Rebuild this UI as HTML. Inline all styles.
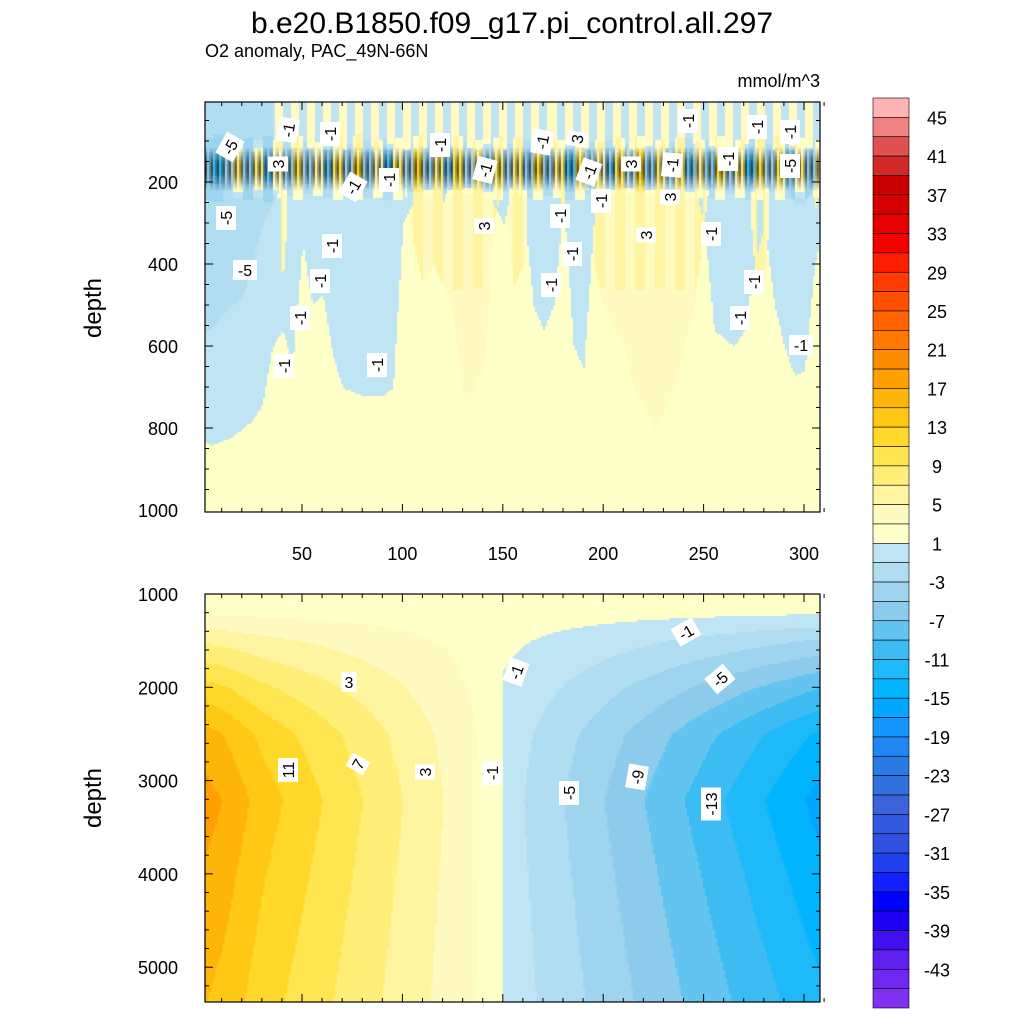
<!DOCTYPE html>
<html><head><meta charset="utf-8">
<style>
html,body{margin:0;padding:0;background:#fff;width:1024px;height:1024px;overflow:hidden;font-family:"Liberation Sans",sans-serif}
#wrap{position:relative;width:1024px;height:1024px}
canvas{position:absolute}
svg{position:absolute;left:0;top:0}
</style></head><body>
<div id="wrap">
<canvas id="topc" width="615" height="410" style="left:205px;top:102px"></canvas>
<canvas id="botc" width="615" height="408" style="left:205px;top:594px"></canvas>
<svg id="ov" width="1024" height="1024"></svg>
</div>
<script>
// ---- data ----
const colors=["#ffb4b4","#f08282","#e05050","#d22828","#c80000","#d70000","#e60000","#f50000","#ff1e00","#ff3c00","#ff5000","#ff6400","#ff7800","#ff8c00","#ffa000","#ffb40a","#ffc814","#ffd82a","#ffe650","#ffee78","#fff4a0","#fffac0","#ffffc8","#bfe4f4","#b0ddf2","#9fd4ef","#8ccbec","#64c4f0","#3cbcf2","#1eb9f8","#00b4ff","#00a6ff","#1496ff","#1e88f0","#2a7ae6","#3070dc","#3a64d8","#3458e0","#3050e0","#2040f0","#1020ff","#0000ff","#2000f0","#4010f0","#6020f0","#7028f0","#8030f0"];
const cbLabels=[45,41,37,33,29,25,21,17,13,9,5,1,-3,-7,-11,-15,-19,-23,-27,-31,-35,-39,-43];
const topX=[0,5,10,15,20,25,30,35,40,45,50,55,60,65,70,75,80,85,90,95,100,105,110,115,120,125,130,135,140,145,150,155,160,165,170,175,180,185,190,195,200,205,210,215,220,225,230,235,240,245,250,255,260,265,270,275,280,285,290,295,300,305,310];
const blueDepth=[830,840,830,820,800,780,740,600,560,640,350,500,470,620,700,710,720,720,720,700,300,250,200,150,250,150,100,100,100,250,300,200,250,500,560,500,250,600,650,300,200,150,100,100,100,100,150,100,150,200,300,560,580,600,560,400,300,500,600,670,660,400,300];
const yellowDepth=[100,100,100,100,100,100,100,100,450,100,100,100,100,100,100,100,100,100,100,100,200,350,450,400,450,500,720,700,650,300,200,450,400,100,100,100,300,100,100,400,500,550,600,700,750,800,760,700,600,500,300,100,100,100,100,400,450,100,100,100,100,250,350];
const deepBlueDepth=[560,560,520,500,480,400,300,250,200,200,200,180,180,200,220,200,200,200,200,180,180,180,180,180,180,180,180,180,180,180,180,180,180,180,200,180,180,200,200,180,180,180,180,180,180,180,180,180,180,180,180,200,220,200,180,180,180,180,200,250,250,200,180];
const bandVals=[-9,-12,-6,7,-9,6,-11,5,-8,9,-7,4,-10,8,-6,10,-9,5,-12,7,-6,11,-8,6,-10,9,-7,5,-11,8,-6,7,-9,10,-8,6,-12,9,-7,5,-10,8,-6,11,-9,6,-8,7,-11,5,-9,10,-7,6,-12,8,-6,9,-10,7,-8,5,10];
const botX=[0,10,20,30,40,60,80,100,110,120,130,140,149,150,160,180,200,220,240,260,280,300,310];
const botProfile=[16,15,13.5,12,11,9,7,5,4,3,1.8,0.8,0.2,-2,-3,-5,-7,-9,-11,-13,-15,-17,-18];
const botDepth=[1000,1200,1500,2000,2500,3200,4000,5000,5400];
const botFactor=[0,0.05,0.3,0.62,0.87,1,0.93,0.85,0.82];
// ---- helpers ----
function interp(xs,ys,x){if(x<=xs[0])return ys[0];for(let i=1;i<xs.length;i++){if(x<=xs[i]){const t=(x-xs[i-1])/(xs[i]-xs[i-1]);return ys[i-1]+t*(ys[i]-ys[i-1]);}}return ys[ys.length-1];}
function colIdx(v){let i=Math.floor((45-v)/2);return Math.max(0,Math.min(46,i));}
const tx=v=>201.6+v*2.008, ty=d=>100+d*0.41;
const by=d=>594+(d-1000)*0.0933;
// top field
(function(){const c=document.getElementById('topc').getContext('2d');
for(let px=0;px<615;px+=2){const x=(px+205-201.6)/2.008;
 const bd=interp(topX,blueDepth,x), dd=interp(topX,deepBlueDepth,x), yd=interp(topX,yellowDepth,x);
 const bi=Math.min(bandVals.length-1,Math.floor(x/5)); const bv=bandVals[bi];
 for(let py=0;py<410;py+=2){const d=(py+102-100)/0.41;
  let v=0; if(d<yd) v=3; if(d<bd && !(d<yd)) v=-2; if(d<bd&&d<yd) v=(Math.floor(x/3)%2)?3:-2;
  if(d<dd && bd>dd+100) v=-4.5;
  if(d<120 && x>35) v=(Math.floor(x/4)%2)?2.5:-2;
  const w=Math.exp(-Math.pow((d-165)/50,2));
  v=v*(1-w)+bv*w;
  c.fillStyle=colors[colIdx(v)];c.fillRect(px,py,2,2);
  const k=(px/2)%3;
  if(w>0.35&&k!=1){c.fillStyle='rgba(0,0,0,'+(0.9*(w-0.3)*(k==0?1:0.6))+')';c.fillRect(px,py,2,2);}
 }}})();
// bottom field
(function(){const c=document.getElementById('botc').getContext('2d');
for(let px=0;px<615;px+=2){const x=(px+205-201.6)/2.008;const p=interp(botX,botProfile,x);
 for(let py=0;py<408;py+=2){const d=1000+(py)/0.0933;
  const v=p*interp(botDepth,botFactor,d);
  c.fillStyle=colors[colIdx(v)];c.fillRect(px,py,2,2);}}})();
// overlay
const svg=document.getElementById('ov');const NS='http://www.w3.org/2000/svg';
function mk(tag,attrs,parent){const e=document.createElementNS(NS,tag);for(const k in attrs)e.setAttribute(k,attrs[k]);(parent||svg).appendChild(e);return e;}
function txt(s,x,y,size,anchor,name){const e=mk('text',{x:x,y:y,'font-size':size,'text-anchor':anchor||'middle','font-family':'Liberation Sans, sans-serif',fill:'#000'});e.textContent=s;

return e;}
function ticks(x0,x1,y0,y1,xt,yt){
 xt.forEach(([v,maj])=>{const X=tx(v);const L=maj?8:4;
  mk('line',{x1:X,y1:y1,x2:X,y2:y1-L,stroke:'#000'});mk('line',{x1:X,y1:y0,x2:X,y2:y0+L,stroke:'#000'});});
 yt.forEach(([Y,maj])=>{const L=maj?8:4;
  mk('line',{x1:x0,y1:Y,x2:x0+L,y2:Y,stroke:'#000'});mk('line',{x1:x1,y1:Y,x2:x1-L,y2:Y,stroke:'#000'});});
}
const xt=[];for(let v=10;v<=310;v+=10)xt.push([v,v%50==0]);
const yt1=[];for(let d=50;d<1000;d+=50)yt1.push([ty(d),d%200==0]);
ticks(205,820,102,512,xt,yt1);
const yt2=[];for(let d=1200;d<5400;d+=200)yt2.push([by(d),d%1000==0]);
ticks(205,820,594,1002,xt,yt2);
let r=mk('rect',{x:205,y:102,width:615,height:410,fill:'none',stroke:'#000','stroke-width':1.2});

r=mk('rect',{x:205,y:594,width:615,height:408,fill:'none',stroke:'#000','stroke-width':1.2});

[50,100,150,200,250,300].forEach(v=>txt(String(v),tx(v),560,18,'middle','x-tick-label'));
[200,400,600,800,1000].forEach(d=>txt(String(d),178,ty(d)+7,18,'end','y-tick-label-top'));
[1000,2000,3000,4000,5000].forEach(d=>txt(String(d),178,by(d)+7,18,'end','y-tick-label-bottom'));
txt('b.e20.B1850.f09_g17.pi_control.all.297',512,33,30,'middle','chart-title');
txt('O2 anomaly, PAC_49N-66N',205,57,18,'start','subtitle');
txt('mmol/m^3',820,87,18,'end','units-label');
let t=txt('depth',0,0,24,'middle','y-axis-title-top');t.setAttribute('transform','translate(101,308) rotate(-90)');
t=txt('depth',0,0,24,'middle','y-axis-title-bottom');t.setAttribute('transform','translate(101,798) rotate(-90)');
// colorbar
const cbTop=98,cbH=910/47;
colors.forEach((col,i)=>{const e=mk('rect',{x:873,y:cbTop+i*cbH,width:36,height:cbH,fill:col,stroke:'#000','stroke-width':0.6});

});
cbLabels.forEach(v=>{const i=(47-v)/2;txt(String(v),937,cbTop+i*cbH+7,18,'middle','colorbar-label');});
// contour labels (approximate)
const lbls=[["-5",230,147,-60],["-1",288,130,-80],["-1",330,134,-90],["3",278,164,-90],["-1",353,187,-60],["-1",389,180,-90],["-1",440,145,-90],["-1",485,170,-75],["-1",542,142,-80],["3",577,139,-80],["-1",589,172,-70],["3",631,164,-90],["-1",672,165,-85],["-1",688,121,-90],["-1",728,159,-90],["-1",757,127,-90],["-1",790,132,-90],["-5",790,166,-90],["-5",226,218,-90],["-5",245,270,0],["-1",601,201,-90],["-1",560,216,-90],["3",484,226,-90],["3",646,235,-90],["3",670,197,-90],["-1",711,234,-90],["-1",332,246,-90],["-1",320,281,-90],["-1",572,254,-90],["-1",551,285,-90],["-1",300,318,-90],["-1",284,366,-90],["-1",377,365,-90],["-1",754,282,-90],["-1",740,318,-90],["-1",801,345,0],
["-1",686,632,-30],["-5",720,679,-40],["-1",516,672,-70],["3",349,682,0],["11",288,770,-90],["7",358,764,-60],["3",425,772,-90],["-1",492,773,-90],["-5",569,793,-90],["-9",637,777,-80],["-13",711,804,-90]];
lbls.forEach(([s,x,y,a])=>{const g=mk('g',{transform:`translate(${x},${y}) rotate(${a})`});


const w=s.length*9+6;mk('rect',{x:-w/2,y:-10,width:w,height:20,fill:'#fff'},g);
const e=mk('text',{x:0,y:6,'font-size':16,'text-anchor':'middle','font-family':'Liberation Sans, sans-serif'},g);e.textContent=s;});
</script>
</body></html>
